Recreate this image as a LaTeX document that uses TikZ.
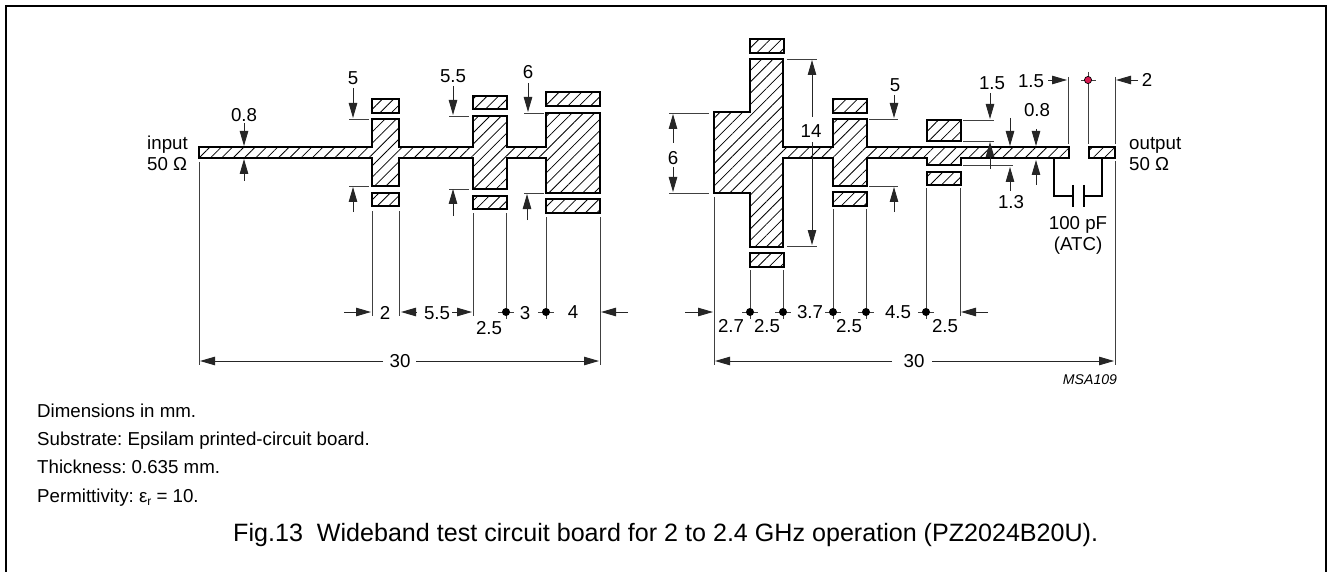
\documentclass[tikz,border=0pt]{standalone}
\usepackage{fontspec}
\setmainfont{Liberation Sans}
\usetikzlibrary{arrows.meta, patterns.meta}
\definecolor{dotred}{RGB}{215,25,80}
\tikzset{
  conductor/.style={draw, line width=1.4pt, pattern={Lines[angle=45,distance=8pt,line width=0.8pt]}},
  dimarrow/.style={-{Triangle[length=15pt,width=8.5pt]}, line width=0.9pt, draw=black!85},
  extline/.style={line width=0.9pt, draw=black!75},
  txt/.style={inner sep=0pt, font=\fontsize{18.7}{21}\selectfont\frenchspacing},
}
\begin{document}
\begin{tikzpicture}[x=1pt,y=-1pt]
        \useasboundingbox (0,0) rectangle (1327,572);
        \draw[line width=1.4pt] (6,572) -- (6,6) -- (1326,6) -- (1326,572);
        % left board
        \draw[conductor] (199,147) -- (372,147) -- (372,119) -- (399,119) -- (399,147) -- (473,147) -- (473,116) -- (507,116) -- (507,147) -- (546,147) -- (546,113) -- (600,113) -- (600,193) -- (546,193) -- (546,158) -- (507,158) -- (507,189) -- (473,189) -- (473,158) -- (399,158) -- (399,186) -- (372,186) -- (372,158) -- (199,158) -- cycle;
        \foreach \xa/\xb/\ya/\yb in {372/399/99/113, 372/399/193/206, 473/507/96/109, 473/507/196/209, 546/600/92/106, 546/600/199/213}
          \draw[conductor] (\xa,\ya) rectangle (\xb,\yb);
        % right board
        \draw[conductor] (714,112) -- (750,112) -- (750,59) -- (783,59) -- (783,147) -- (833,147) -- (833,119) -- (867,119) -- (867,147) -- (1069,147) -- (1069,158) -- (961,158) -- (961,165) -- (927,165) -- (927,158) -- (867,158) -- (867,186) -- (833,186) -- (833,158) -- (783,158) -- (783,247) -- (750,247) -- (750,193) -- (714,193) -- cycle;
        \foreach \xa/\xb/\ya/\yb in {750/784/39/53, 750/784/253/267, 833/867/99/113, 833/867/192/206, 927/961/120/141, 927/961/172/185, 1089/1115/147/158}
          \draw[conductor] (\xa,\ya) rectangle (\xb,\yb);
        % capacitor
        \draw[line width=1.1pt] (1054,158) |- (1073,196);
        \draw[line width=1.1pt] (1102,158) |- (1084,196);
        \draw[line width=2.4pt] (1073,185) -- (1073,207);
        \draw[line width=2.4pt] (1084,185) -- (1084,207);
        % extension lines
        \foreach \xa/\ya/\yb in {199/162/365, 372/211/316, 399/211/316, 473/213/316, 506/213/319, 546/217/319, 600/217/365, 714/197/365, 750/270/319, 783/270/319, 833/209/319, 866/209/319, 926/188/319, 960/188/316, 1068/77/144, 1088/72/144, 1115/77/144, 1115/161/365}
          \draw[extline] (\xa,\ya) -- (\xa,\yb);
        \foreach \ya/\xa/\xb in {119/349/369, 186/349/369, 116/449/469, 189/449/469, 113/524/544, 193/524/544, 113/669/709, 193/669/709, 59/787/817, 246/787/817, 119/869/898, 186/869/898, 120/963/994, 141/963/994, 165/963/1013}
          \draw[extline] (\xa,\ya) -- (\xb,\ya);
        % vertical arrows
        \foreach \xa/\ya/\yb in {244/123/146, 244/181/159, 353/88/118, 353/212/187, 453/86/115, 453/216/189, 528/83/112, 527/220/194, 673/143/114, 673/167/192, 812/117/60, 812/142/245, 894/95/118, 894/212/187, 990/93/119, 990/169/142, 1010/118/146, 1010/191/167, 1036/129/146, 1036/185/160}
          \draw[dimarrow] (\xa,\ya) -- (\xa,\yb);
        % horizontal arrows
        \foreach \ya/\xa/\xb in {312/344/371, 312/416/401, 312/452/472, 312/628/601, 361/383/200, 361/416/599, 312/685/713, 312/988/961, 361/892/715, 361/932/1114, 80/1048/1067, 80/1138/1116}
          \draw[dimarrow] (\xa,\ya) -- (\xb,\ya);
        % dots
        \foreach \xa in {506, 546, 750, 783, 833, 866, 926} {
          \draw[extline] (\xa-8,312) -- (\xa+8,312);
          \fill (\xa,312) circle (4pt);
        }
        \draw[extline] (1081,80) -- (1096,80);
        \filldraw[fill=dotred, line width=0.7pt] (1088,80) circle (3.6pt);
        % labels
        \foreach \xa/\ya/\lbl [count=\i] in {244/115/0.8, 353/78/5, 453/76/5.5, 528/72/6, 673/158/6, 811/131/14, 895/85/5, 992/83/1.5, 1011/202/1.3, 1037/110/0.8, 1031/81/1.5, 1147/80/2, 385/313/2, 437/313/5.5, 489/328/2.5, 525/313/3, 573/312/4, 731/326/2.7, 767/326/2.5, 810/312/3.7, 849/326/2.5, 898/312/4.5, 945/326/2.5, 400/361/30, 914/361/30, 1078/225/100 pF, 1078/246/(ATC)}
          \node[txt] (lbl\i) at (\xa,\ya) {\lbl};
        \node[txt, anchor=base west] (input) at (147,150) {input};
        \node[txt, anchor=base west] (inputz) at (147,171) {50 Ω};
        \node[txt, anchor=base west] (output) at (1129,150) {output};
        \node[txt, anchor=base west] (outputz) at (1129,171) {50 Ω};
        \node[inner sep=0pt, font=\fontsize{14.1}{16}\selectfont\itshape] (code) at (1090,380) {MSA109};
        % notes
        \node[txt, anchor=base west] (note1) at (37,417.5) {Dimensions in mm.};
        \node[txt, anchor=base west] (note2) at (37,445.5) {Substrate: Epsilam printed-circuit board.};
        \node[txt, anchor=base west] (note3) at (37,473.5) {Thickness: 0.635 mm.};
        \node[txt, anchor=base west] (note4) at (37,502.5) {Permittivity: ε\raisebox{-3pt}{\fontsize{12}{14}\selectfont r} = 10.};
        \node[inner sep=0pt, anchor=base west, font=\fontsize{25.1}{28}\selectfont\frenchspacing] (caption) at (233,541) {Fig.13\ \ Wideband test circuit board for 2 to 2.4 GHz operation (PZ2024B20U).};
      \end{tikzpicture}
\end{document}
